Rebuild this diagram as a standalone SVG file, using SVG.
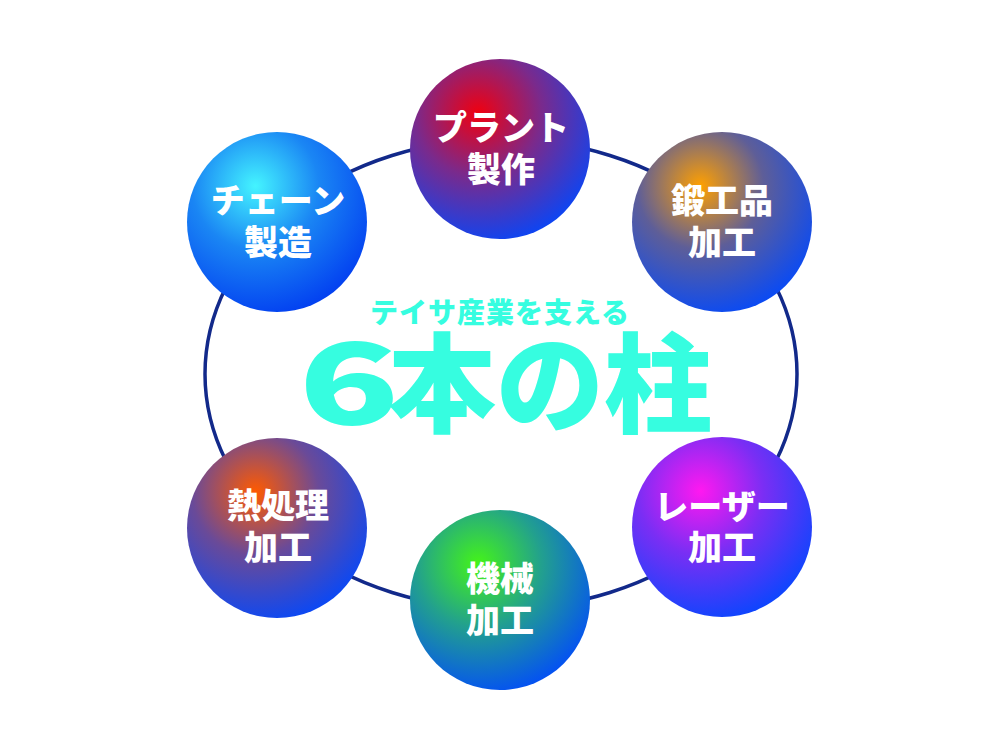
<svg xmlns="http://www.w3.org/2000/svg" width="1000" height="750" viewBox="0 0 1000 750">
<style>
.lbl{font-family:"Noto Sans CJK JP","Noto Sans",sans-serif;font-weight:900;font-size:34px;fill:#ffffff;text-anchor:middle}
.ttl{font-family:"Noto Sans CJK JP","Noto Sans",sans-serif;font-weight:900;fill:#36fde0;text-anchor:middle}
.ring{fill:none;stroke:#12298a;stroke-width:3.5}
</style>
<defs>
<radialGradient id="gRed" cx="0.38" cy="0.3" r="0.78">
<stop offset="0" stop-color="#f00010"/><stop offset="0.45" stop-color="#7a2a8c"/><stop offset="1" stop-color="#0048ff"/>
</radialGradient>
<radialGradient id="gCyan" cx="0.38" cy="0.3" r="0.78">
<stop offset="0" stop-color="#44f4ff"/><stop offset="0.45" stop-color="#1a86f4"/><stop offset="1" stop-color="#0038f0"/>
</radialGradient>
<radialGradient id="gOrange" cx="0.38" cy="0.3" r="0.78">
<stop offset="0" stop-color="#ffa000"/><stop offset="0.45" stop-color="#5e5e98"/><stop offset="1" stop-color="#0048ff"/>
</radialGradient>
<radialGradient id="gRedOr" cx="0.38" cy="0.3" r="0.78">
<stop offset="0" stop-color="#ff5a00"/><stop offset="0.45" stop-color="#6a4a98"/><stop offset="1" stop-color="#0048ff"/>
</radialGradient>
<radialGradient id="gMag" cx="0.38" cy="0.3" r="0.78">
<stop offset="0" stop-color="#ff18f0"/><stop offset="0.45" stop-color="#7a2ef4"/><stop offset="1" stop-color="#0048ff"/>
</radialGradient>
<radialGradient id="gGreen" cx="0.38" cy="0.3" r="0.78">
<stop offset="0" stop-color="#44f418"/><stop offset="0.45" stop-color="#22a08e"/><stop offset="1" stop-color="#0048ff"/>
</radialGradient>
</defs>
<rect width="1000" height="750" fill="#ffffff"/>
<g id="connectors">
<ellipse class="ring" cx="501" cy="374" rx="296" ry="235"/>
</g>
<g id="title">
<text class="ttl"><tspan x="500" y="323" font-size="28" letter-spacing="1">テイサ産業を支える</tspan><tspan x="550" y="424" font-size="108">本の柱</tspan></text>
<text class="ttl" x="0" y="0" font-size="112" transform="translate(349,424) scale(1.48,1)">6</text>
</g>
<g id="node-plant">
<circle cx="500" cy="149" r="90" fill="url(#gRed)"/>
<text class="lbl"><tspan x="501" y="140">プラント</tspan><tspan x="501" y="182">製作</tspan></text>
</g>
<g id="node-chain">
<circle cx="277" cy="222" r="90" fill="url(#gCyan)"/>
<text class="lbl"><tspan x="278" y="213">チェーン</tspan><tspan x="278" y="255">製造</tspan></text>
</g>
<g id="node-forging">
<circle cx="722" cy="222" r="90" fill="url(#gOrange)"/>
<text class="lbl"><tspan x="722" y="213">鍛工品</tspan><tspan x="722" y="255">加工</tspan></text>
</g>
<g id="node-heat">
<circle cx="277" cy="528" r="90" fill="url(#gRedOr)"/>
<text class="lbl"><tspan x="278" y="518">熱処理</tspan><tspan x="278" y="560">加工</tspan></text>
</g>
<g id="node-laser">
<circle cx="722" cy="527" r="90" fill="url(#gMag)"/>
<text class="lbl"><tspan x="722" y="519">レーザー</tspan><tspan x="722" y="560">加工</tspan></text>
</g>
<g id="node-machine">
<circle cx="500" cy="600" r="90" fill="url(#gGreen)"/>
<text class="lbl"><tspan x="500" y="591">機械</tspan><tspan x="500" y="633">加工</tspan></text>
</g>
</svg>
